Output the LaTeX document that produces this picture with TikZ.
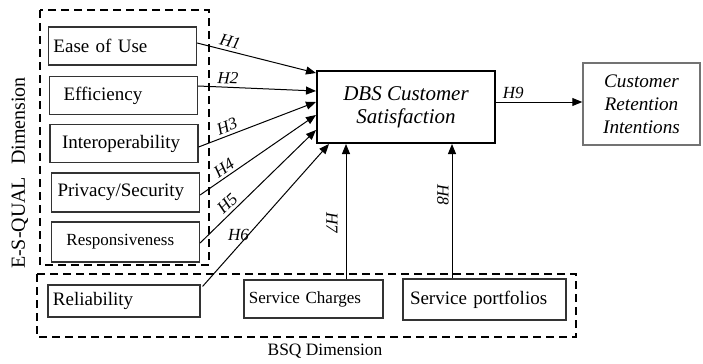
\documentclass[tikz,border=0pt]{standalone}
\usepackage{fontspec}
\setmainfont{Liberation Serif}
\usetikzlibrary{arrows.meta}
\usetikzlibrary{calc}

\begin{document}
\begin{tikzpicture}[x=0.5pt, y=-0.5pt,
  factor/.style={draw=black!80, line width=0.6pt, inner xsep=2.5pt, text width=69pt,
    minimum height=19pt, align=left, font=\fontsize{9.5}{11.5}\selectfont},
  smallfactor/.style={factor, font=\fontsize{8.5}{10}\selectfont},
  dimbox/.style={dash pattern=on 4pt off 2.5pt, line width=0.8pt},
  hyp/.style={-{Triangle[length=5pt,width=4pt]}, line width=0.5pt},
  hlabel/.style={font=\fontsize{8.5}{10}\selectfont\itshape, inner sep=1.5pt}]

\useasboundingbox (0,0) rectangle (703,364);

% dimensions
\draw[dimbox] (40,10) rectangle (209,265);
\draw[dimbox] (37,274) rectangle (576,337);
\node[rotate=90, font=\fontsize{10}{12}\selectfont] (esqual) at (20,173) {E-S-QUAL\hspace{0.6em}Dimension};
\node[font=\fontsize{8.7}{10}\selectfont] (bsq) at (325,351) {BSQ Dimension};

% E-S-QUAL factors
\node[factor] (ease) at (122.5,46) {Ease of Use};
\node[factor] (eff) at (123.5,95.5) {\hspace*{4.5pt}Efficiency};
\node[factor] (inter) at (124,143.5) {\hspace*{3.5pt}Interoperability};
\node[factor, minimum height=19.5pt] (priv) at (125.5,192.5) {\hspace*{0.5pt}Privacy/Security};
\node[smallfactor, minimum height=20pt] (resp) at (125.5,242) {\hspace*{5pt}Responsiveness};

% BSQ factors
\node[factor, text width=71pt, minimum height=16pt] (rel) at (124,301) {Reliability};
\node[smallfactor, text width=64.5pt, minimum height=19pt] (sc) at (313.5,299) {Service Charges};
\node[factor, text width=76.5pt, minimum height=20.5pt] (sp) at (484.5,299.5) {\hspace*{1pt}Service portfolios};

% outcomes
\node[draw, line width=1pt, minimum width=89pt, minimum height=36pt, align=center,
  font=\fontsize{10.5}{11.5}\selectfont\itshape] (dbs) at (406,107) {DBS Customer\\Satisfaction};
\node[draw=black!55, line width=0.7pt, minimum width=58.5pt, minimum height=41pt, align=center,
  font=\fontsize{9.6}{11.5}\selectfont\itshape] (cr) at (641.5,104) {Customer\\Retention\\Intentions};

% connector ends
\coordinate (h7) at ($(sc.north)+(32.5,0)$);
\coordinate (h8) at ($(sp.north)+(-32.5,0)$);
\coordinate (h9) at ($(dbs.east)+(0,-5)$);

% hypotheses
\draw[hyp] ($(ease.east)+(0,-3)$) -- ($(dbs.west)+(0,-34)$) node[hlabel, pos=0.26, sloped, above] {H1};
\draw[hyp] ($(eff.east)+(0,-9.5)$) -- ($(dbs.west)+(0,-16)$) node[hlabel, pos=0.25, sloped, above] {H2};
\draw[hyp] ($(inter.east)+(0,3.5)$) -- ($(dbs.west)+(0,-5)$) node[hlabel, pos=0.27, sloped, above] {H3};
\draw[hyp] ($(priv.east)+(0,2.5)$) -- ($(dbs.west)+(0,8)$) node[hlabel, pos=0.25, sloped, above] {H4};
\draw[hyp] ($(resp.east)+(0,1)$) -- ($(dbs.west)+(0,23)$) node[hlabel, pos=0.29, sloped, above] {H5};
\draw[hyp] ($(rel.north east)+(2,2)$) -- ($(dbs.south west)+(13,0)$) node[hlabel, pos=0.3, above, xshift=-1pt] {H6};
\draw[hyp] (h7) -- (h7 |- dbs.south) node[hlabel, pos=0.42, xshift=-7pt, rotate=-90] {H7};
\draw[hyp] (h8) -- (h8 |- dbs.south) node[hlabel, pos=0.62, xshift=-4.5pt, rotate=-90] {H8};
\draw[hyp] (h9) -- (h9 -| cr.west) node[hlabel, pos=0.2, above] {H9};
\end{tikzpicture}
\end{document}
